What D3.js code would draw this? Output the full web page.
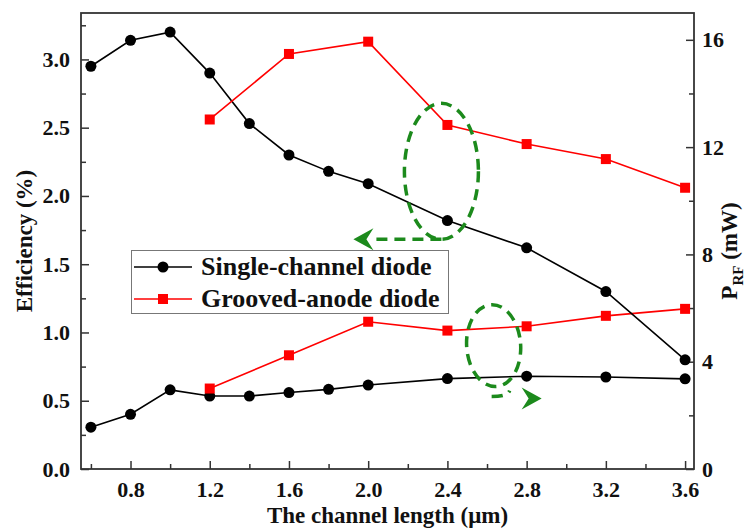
<!DOCTYPE html>
<html>
<head>
<meta charset="utf-8">
<script src="https://cdn.jsdelivr.net/npm/d3@7/dist/d3.min.js"></script>
<style>
  html, body { margin: 0; padding: 0; background: #fff; }
  svg { display: block; }
</style>
</head>
<body>
<svg id="chart" width="745" height="529"></svg>
<script>
// Channel lengths (µm)
const lengths = [0.6, 0.8, 1.0, 1.2, 1.4, 1.6, 1.8, 2.0, 2.4, 2.8, 3.2, 3.6];
const groovedLengths = [1.2, 1.6, 2.0, 2.4, 2.8, 3.2, 3.6];

// Efficiency (%) – left axis
const effSingle = [2.95, 3.14, 3.20, 2.90, 2.53, 2.30, 2.18, 2.09, 1.82, 1.62, 1.30, 0.80];
const effGrooved = [2.56, 3.04, 3.13, 2.52, 2.38, 2.27, 2.06];

// RF power (mW) – right axis
const pSingle = [1.56, 2.04, 2.95, 2.72, 2.72, 2.85, 2.97, 3.13, 3.37, 3.46, 3.43, 3.36];
const pGrooved = [3.00, 4.24, 5.49, 5.16, 5.32, 5.71, 5.97];

// Tick values
const xMajor = [0.8, 1.2, 1.6, 2.0, 2.4, 2.8, 3.2, 3.6];
const xMinor = [0.6, 1.0, 1.4, 1.8, 2.2, 2.6, 3.0, 3.4];
const yLeftMajor = [0.0, 0.5, 1.0, 1.5, 2.0, 2.5, 3.0];
const yLeftMinor = [0.25, 0.75, 1.25, 1.75, 2.25, 2.75, 3.25];
const yRightMajor = [0, 4, 8, 12, 16];
const yRightMinor = [2, 6, 10, 14];

const seriesNames = ["Single-channel diode", "Grooved-anode diode"];

const FONT = "'Liberation Serif', 'Times New Roman', Times, 'DejaVu Serif', serif";

const svg = d3.select("#chart");
const L = 81, R = 694, T = 13, B = 469;

const x = d3.scaleLinear().domain([0.55, 3.645]).range([L, R]);
const yL = d3.scaleLinear().domain([0, 3.34]).range([B, T]);
const yR = d3.scaleLinear().domain([0, 17]).range([B, T]);

const green = "#1c8a1c";

function fontOf(sel, size) {
  return sel.attr("font-family", FONT).style("font-family", FONT)
    .attr("font-weight", "bold").style("font-weight", "bold")
    .style("font-size", size + "px").attr("fill", "#111");
}

// ----- axes (ticks point inward) -----
function styleAxis(g) {
  g.select(".domain").remove();
  g.attr("font-family", FONT);
  g.selectAll(".tick line").attr("stroke", "#333").attr("stroke-width", 1.5);
  g.selectAll(".tick text").call(fontOf, 22);
}

svg.append("g").attr("transform", `translate(0,${B})`)
  .call(d3.axisBottom(x).tickValues(xMajor).tickSize(-8).tickPadding(12).tickFormat(d3.format(".1f")))
  .call(styleAxis);
svg.append("g").attr("transform", `translate(0,${B})`)
  .call(d3.axisBottom(x).tickValues(xMinor).tickSize(-5).tickFormat(""))
  .call(styleAxis);

svg.append("g").attr("transform", `translate(${L},0)`)
  .call(d3.axisLeft(yL).tickValues(yLeftMajor).tickSize(-8).tickPadding(11).tickFormat(d3.format(".1f")))
  .call(styleAxis);
svg.append("g").attr("transform", `translate(${L},0)`)
  .call(d3.axisLeft(yL).tickValues(yLeftMinor).tickSize(-5).tickFormat(""))
  .call(styleAxis);

svg.append("g").attr("transform", `translate(${R},0)`)
  .call(d3.axisRight(yR).tickValues(yRightMajor).tickSize(-8).tickPadding(8).tickFormat(d3.format("d")))
  .call(styleAxis);
svg.append("g").attr("transform", `translate(${R},0)`)
  .call(d3.axisRight(yR).tickValues(yRightMinor).tickSize(-5).tickFormat(""))
  .call(styleAxis);

// frame
svg.append("rect").attr("x", L).attr("y", T).attr("width", R - L).attr("height", B - T)
  .attr("fill", "none").attr("stroke", "#333").attr("stroke-width", 1.8);

// ----- axis titles -----
svg.append("text").attr("x", (L + R) / 2).attr("y", 523).attr("text-anchor", "middle")
  .call(fontOf, 23).text("The channel length (\u03bcm)");

svg.append("text").attr("transform", `translate(32,${(T + B) / 2}) rotate(-90)`)
  .attr("text-anchor", "middle").call(fontOf, 23).text("Efficiency (%)");

const rt = svg.append("text").attr("transform", `translate(737,${(T + B) / 2 + 10}) rotate(-90)`)
  .attr("text-anchor", "middle").call(fontOf, 23);
rt.append("tspan").text("P");
rt.append("tspan").attr("dy", 6).style("font-size", "15px").text("RF");
rt.append("tspan").attr("dy", -6).text(" (mW)");

// ----- series -----
function drawSeries(xs, ys, yScale, color, shape) {
  const pts = xs.map((d, i) => [d, ys[i]]);
  svg.append("path").datum(pts)
    .attr("fill", "none").attr("stroke", color).attr("stroke-width", 1.6)
    .attr("d", d3.line().x(d => x(d[0])).y(d => yScale(d[1])));
  if (shape === "circle") {
    svg.selectAll(null).data(pts).enter().append("circle")
      .attr("cx", d => x(d[0])).attr("cy", d => yScale(d[1])).attr("r", 5.5).attr("fill", color);
  } else {
    svg.selectAll(null).data(pts).enter().append("rect")
      .attr("x", d => x(d[0]) - 5).attr("y", d => yScale(d[1]) - 5)
      .attr("width", 10).attr("height", 10).attr("fill", color);
  }
}

drawSeries(lengths, pSingle, yR, "#000", "circle");
drawSeries(groovedLengths, pGrooved, yR, "#ff0000", "square");
drawSeries(lengths, effSingle, yL, "#000", "circle");
drawSeries(groovedLengths, effGrooved, yL, "#ff0000", "square");

// ----- dashed loops with arrows pointing to the matching axis -----
function arrowHead(tx, ty, dir) {
  // swallow-tail arrowhead, dir = 1 points right, -1 points left
  const p = [[0, 0], [-20, -11], [-13, 0], [-20, 11]]
    .map(([a, b]) => [tx + dir * a, ty + b]);
  svg.append("path").attr("d", "M" + p.join("L") + "Z").attr("fill", green);
}
const dashStyle = s => s.attr("fill", "none").attr("stroke", green)
  .attr("stroke-width", 3.5).attr("stroke-dasharray", "11,7");

// upper loop around the efficiency curves at 2.4 µm -> left axis
{
  const cx = x(2.4) - 6, cy = yL(2.18), rx = 37, ry = 68;
  svg.append("ellipse").attr("cx", cx).attr("cy", cy).attr("rx", rx).attr("ry", ry)
    .call(dashStyle);
  svg.append("path").attr("d", `M${cx},${cy + ry}L${cx - 68},${cy + ry}`).call(dashStyle);
  arrowHead(cx - 88, cy + ry, -1);
}

// lower loop around the RF power curves at 2.8 µm -> right axis
{
  const cx = x(2.8) - 33, cy = yR(4.6), rx = 27, ry = 41;
  svg.append("ellipse").attr("cx", cx).attr("cy", cy).attr("rx", rx).attr("ry", ry)
    .attr("transform", `rotate(-4,${cx},${cy})`).call(dashStyle);
  svg.append("path").attr("d", `M${cx - 2},${cy + ry + 10}Q${cx + 14},${cy + ry + 10} ${cx + 16},${cy + ry + 4}`)
    .call(dashStyle);
  arrowHead(cx + 48, cy + ry + 12, 1);
}

// ----- legend -----
const lg = svg.append("g");
lg.append("rect").attr("x", 131.5).attr("y", 250.5).attr("width", 317).attr("height", 63)
  .attr("fill", "#fff").attr("stroke", "#777").attr("stroke-width", 1);
const legendRows = [
  { name: seriesNames[0], color: "#000", shape: "circle", y: 267 },
  { name: seriesNames[1], color: "#ff0000", shape: "square", y: 299 }
];
legendRows.forEach(r => {
  lg.append("line").attr("x1", 134).attr("x2", 192).attr("y1", r.y).attr("y2", r.y)
    .attr("stroke", r.color).attr("stroke-width", 1.6);
  if (r.shape === "circle") {
    lg.append("circle").attr("cx", 163).attr("cy", r.y).attr("r", 5.5).attr("fill", r.color);
  } else {
    lg.append("rect").attr("x", 158).attr("y", r.y - 5).attr("width", 10).attr("height", 10).attr("fill", r.color);
  }
  lg.append("text").attr("x", 201).attr("y", r.y + 8).call(fontOf, 26).text(r.name);
});
</script>
</body>
</html>
